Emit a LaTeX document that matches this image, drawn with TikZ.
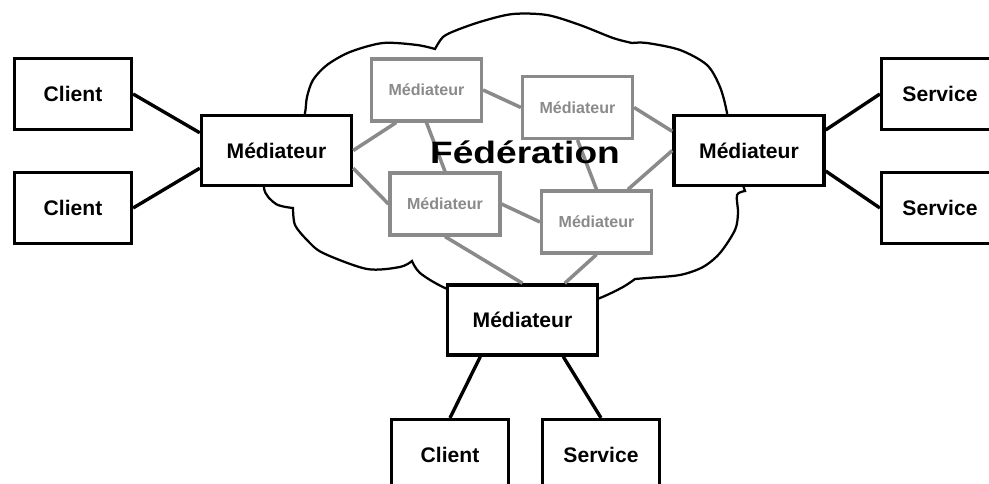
\documentclass[tikz,border=0pt]{standalone}
\usepackage{fontspec}
\setmainfont{Liberation Sans}
\usepackage{tikz}
\usetikzlibrary{positioning}
\definecolor{fedgrey}{HTML}{8A8A8A}

\begin{document}
\begin{tikzpicture}[x=0.025cm, y=0.025cm, every node/.style={inner sep=0.5mm,text depth=0},
        endbox/.style={draw, line width=2.4pt, fill=white, minimum width=2.92cm, minimum height=1.77cm, font=\bfseries\fontsize{15}{18}\selectfont},
        medbox/.style={endbox, minimum width=3.75cm, minimum height=1.75cm},
        fedbox/.style={draw=fedgrey, text=fedgrey, line width=2.2pt, fill=white, minimum width=2.75cm, minimum height=1.55cm, font=\bfseries\fontsize{11.4}{14}\selectfont},
        link/.style={line width=2.4pt},
        fedlink/.style={draw=fedgrey, line width=2.5pt}]
        \useasboundingbox (0,0) rectangle (989,-484);
        \clip (0,0) rectangle (989,-484);

        \draw[line width=1.6pt] plot[smooth] coordinates {(293,-208) (276,-204) (264,-188) (270,-150) (300,-125) (305,-113) (307,-97) (313,-80) (327,-65) (350,-52) (383,-43) (417,-45) (435,-49)}
            -- plot[smooth] coordinates {(435,-49) (443,-37) (457,-30) (483,-21) (513,-14) (547,-15) (580,-25) (613,-38) (632,-43)}
            -- plot[smooth] coordinates {(632,-43) (647,-43) (680,-50) (707,-65) (720,-87) (727,-113) (732,-150) (745,-191)}
            -- plot[smooth] coordinates {(745,-191) (737,-195) (738,-213) (735,-230) (720,-253) (703,-267) (680,-275) (647,-278) (635,-279)}
            -- plot[smooth] coordinates {(635,-279) (623,-287) (600,-298) (560,-312) (500,-310) (445,-288) (420,-273) (412,-261)}
            -- plot[smooth] coordinates {(412,-261) (400,-267) (367,-269) (323,-253) (307,-240) (295,-225) (293,-208)} -- cycle;

        \node[endbox] (c1) at (73,-94) {Client};
        \node[endbox] (c2) at (73,-208) {Client};
        \node[medbox] (lm) at (276.5,-150.5) {Médiateur};
        \node[medbox] (rm) at (749,-150.5) {Médiateur};
        \node[endbox] (s1) at (940,-94) {Service};
        \node[endbox] (s2) at (940,-208) {Service};
        \node[medbox] (bm) at (522.5,-320) {Médiateur};
        \node[endbox] (bc) at (450,-455) {Client};
        \node[endbox] (bs) at (601,-455) {Service};

        \node[fedbox] (g1) at (426.5,-90) {Médiateur};
        \node[fedbox] (g2) at (577.5,-107.5) {Médiateur};
        \node[fedbox] (g3) at (445,-204) {Médiateur};
        \node[fedbox] (g4) at (596.5,-222) {Médiateur};

        \draw[fedlink] (lm.east) -- (g1.227);
        \draw[fedlink] (lm.-13) -- (g3.west);
        \draw[fedlink] (g1.south) -- (g3.north);
        \draw[fedlink] (g1.east) -- (g2.west);
        \draw[fedlink] (g2.east) -- (rm.166);
        \draw[fedlink] (g2.south) -- (g4.north);
        \draw[fedlink] (g4.46) -- (rm.west);
        \draw[fedlink] (g3.east) -- (g4.west);
        \draw[fedlink] (g3.south) -- (bm.north);
        \draw[fedlink] (g4.south) -- (bm.41.5);

        \node[anchor=base] (fed) at (525,-164) {\bfseries\fontsize{22}{26}\selectfont\scalebox{1.2}[1]{Fédération}};

        \draw[link] (c1.east) -- (lm.167);
        \draw[link] (c2.east) -- (lm.193);

        \draw[link] (rm.15) -- (s1.west);
        \draw[link] (rm.-15) -- (s2.west);

        \draw[link] (bm.221) -- (bc.north);
        \draw[link] (bm.-42) -- (bs.north);

    \end{tikzpicture}
\end{document}
